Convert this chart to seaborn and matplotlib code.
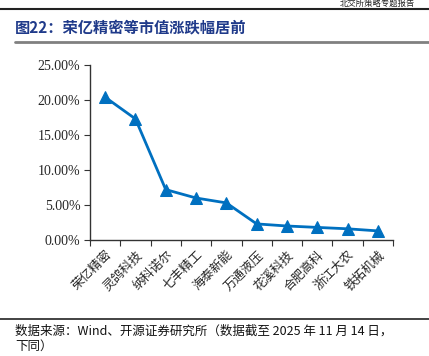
import matplotlib
matplotlib.use("Agg")
import matplotlib.pyplot as plt
import seaborn as sns
from matplotlib.ticker import FuncFormatter, FixedLocator
from matplotlib.lines import Line2D

names = ["荣亿精密", "灵鸽科技", "纳科诺尔", "七丰精工", "海泰新能",
         "万通液压", "花溪科技", "合肥高科", "浙江大农", "铁拓机械"]
changes = [20.4, 17.3, 7.2, 6.0, 5.3, 2.3, 2.0, 1.8, 1.6, 1.3]
yticks = [0, 5, 10, 15, 20, 25]

title = "图22：荣亿精密等市值涨跌幅居前"
source = "数据来源：Wind、开源证券研究所（数据截至 2025 年 11 月 14 日，"
source2 = "下同）"
header = "北交所策略专题报告"

sns.set_theme(style="white")
cjk = ["Noto Sans CJK SC", "DejaVu Sans"]
serif = ["Liberation Serif", "Noto Sans CJK SC"]
plt.rcParams["font.family"] = cjk

W, H = 429, 356
fig = plt.figure(figsize=(W / 100, H / 100), dpi=100)
ax = fig.add_axes([90 / W, 1 - 240 / H, 303 / W, 175 / H])

blue = "#0070C0"
sns.lineplot(x=list(range(len(names))), y=changes, ax=ax, color=blue,
             linewidth=2, marker="^", markersize=9, markeredgecolor=blue)

ax.set_xlim(-0.5, len(names) - 0.5)
ax.set_ylim(0, 25)
ax.set_yticks(yticks)
ax.yaxis.set_major_formatter(FuncFormatter(lambda v, p: f"{v:.2f}%"))
ax.set_xticks(range(len(names)))
ax.set_xticklabels(names, rotation=45, ha="right", rotation_mode="anchor",
                   fontsize=9, family=["Noto Sans CJK SC"])
ax.xaxis.set_minor_locator(FixedLocator([i + 0.5 for i in range(-1, len(names))]))
ax.tick_params(axis="x", which="major", length=0, pad=6)
ax.tick_params(axis="x", which="minor", length=4, width=0.8, color="#333333",
               direction="out", bottom=True)
ax.tick_params(axis="y", length=4, width=0.8, color="#333333", direction="out",
               left=True, pad=3)
for lab in ax.get_yticklabels():
    lab.set_family(serif)
    lab.set_fontsize(10)
for s in ["top", "right"]:
    ax.spines[s].set_visible(False)
for s in ["left", "bottom"]:
    ax.spines[s].set_color("#333333")
    ax.spines[s].set_linewidth(1)
ax.set_xlabel("")
ax.set_ylabel("")
ax.grid(False)

# page decorations
fig.add_artist(Line2D([0, 1], [1 - 9 / H, 1 - 9 / H], color="#222222", lw=1.5))
fig.text(415 / W, 1 - 8 / H, header, ha="right", va="bottom", fontsize=6,
         color="#222222")
fig.text(15 / W, 1 - 27 / H, title, ha="left", va="center", fontsize=11,
         fontweight="bold", color="#1F3A8A")
fig.add_artist(Line2D([15 / W, 1], [1 - 42 / H, 1 - 42 / H], color="#808080", lw=2))
fig.add_artist(Line2D([0, 1], [1 - 319 / H, 1 - 319 / H], color="#222222", lw=1.2))
fig.text(15 / W, 1 - 331 / H, source, ha="left", va="center", fontsize=9,
         color="#111111", family=["Noto Sans CJK SC"])
fig.text(15 / W, 1 - 346 / H, source2, ha="left", va="center", fontsize=9,
         color="#111111", family=["Noto Sans CJK SC"])

fig.savefig("out.png", dpi=100)
